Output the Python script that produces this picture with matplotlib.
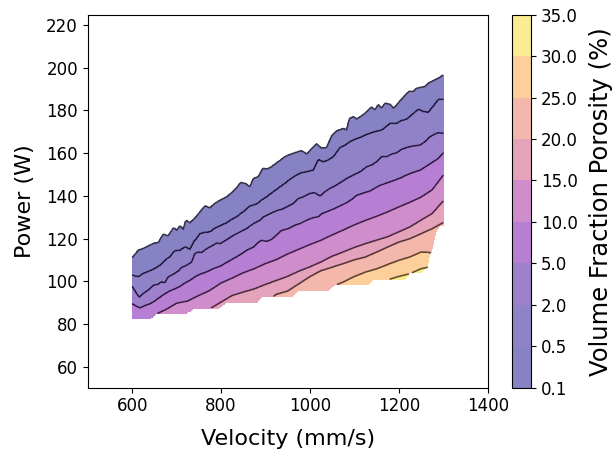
import numpy as np
import matplotlib
matplotlib.use("Agg")
import matplotlib.pyplot as plt

# porosity levels (colorbar boundaries)
levels = [0.1, 0.5, 2.0, 5.0, 10.0, 15.0, 20.0, 25.0, 30.0, 35.0]

# lower edge of the sampled region: velocity (mm/s) -> power (W)
bottom_v = [600, 640, 655, 723, 738, 798, 809, 880, 891, 959, 974, 1041, 1056, 1128,
            1143, 1214, 1225, 1250, 1262, 1265, 1270, 1280, 1285, 1293, 1300]
bottom_p = [82.1, 82.1, 84.8, 84.8, 87.2, 87.2, 89.8, 89.8, 92.6, 92.6, 95.4, 95.4,
            98.1, 98.1, 100.8, 100.8, 103.6, 103.6, 106.0, 106.0, 111.4, 119.2,
            123.1, 126.0, 126.0]

# iso-porosity lines: velocity (mm/s), power (W)
v_01 = [600, 614, 625, 640, 651, 659, 670, 681, 693, 700, 708, 715, 721, 730, 741,
        753, 764, 775, 786, 798, 813, 824, 835, 844, 854, 865, 873, 884, 894, 903,
        914, 925, 936, 944, 955, 966, 981, 993, 1004, 1015, 1026, 1038, 1049, 1060,
        1075, 1083, 1089, 1098, 1105, 1116, 1128, 1139, 1146, 1154, 1161, 1169, 1180,
        1188, 1195, 1206, 1218, 1225, 1233, 1240, 1251, 1259, 1266, 1278, 1289, 1300]
p_01 = [110.9, 114.5, 115.3, 116.9, 117.9, 118.1, 122.0, 121.2, 125.0, 123.9, 125.9,
        124.2, 128.6, 127.3, 129.4, 132.5, 135.3, 134.3, 136.4, 137.9, 139.5, 141.4,
        143.7, 146.2, 145.8, 144.2, 148.1, 148.9, 152.8, 152.5, 153.6, 155.4, 157.0,
        158.3, 159.3, 160.1, 161.1, 159.5, 162.0, 164.2, 162.2, 162.6, 168.0, 170.3,
        171.4, 170.8, 176.2, 177.0, 175.9, 177.3, 179.4, 181.7, 180.1, 182.8, 180.9,
        183.3, 182.8, 180.9, 182.5, 185.1, 187.9, 189.0, 188.7, 190.3, 190.8, 191.1,
        192.6, 193.9, 195.0, 196.5]

v_05 = [600, 614, 625, 640, 651, 663, 674, 685, 696, 708, 719, 730, 741, 745, 753,
        764, 775, 786, 798, 813, 824, 835, 850, 865, 880, 891, 903, 918, 933, 944,
        955, 966, 981, 993, 1008, 1019, 1030, 1041, 1053, 1068, 1079, 1090, 1101,
        1113, 1124, 1135, 1146, 1158, 1165, 1180, 1195, 1206, 1218, 1233, 1244, 1255,
        1266, 1278, 1289, 1300]
p_05 = [102.8, 102.0, 103.6, 104.8, 105.9, 107.5, 109.8, 111.4, 114.2, 114.5, 116.1,
        114.8, 119.2, 120.0, 122.3, 122.8, 123.1, 124.7, 125.9, 127.3, 128.9, 130.1,
        132.5, 135.1, 136.1, 137.9, 139.5, 141.9, 144.2, 145.8, 147.6, 149.2, 150.8,
        151.2, 152.0, 157.0, 155.9, 156.7, 158.3, 162.6, 163.7, 165.3, 166.4, 167.3,
        168.4, 169.2, 170.0, 170.5, 171.2, 173.9, 173.9, 175.2, 175.8, 178.6, 180.5,
        179.4, 179.0, 182.0, 185.1, 185.1]

v_2 = [600, 610, 616, 625, 636, 648, 659, 666, 674, 681, 693, 704, 711, 723, 734,
       741, 749, 756, 768, 779, 790, 798, 813, 828, 843, 858, 873, 888, 895, 903, 914,
       925, 936, 948, 963, 974, 985, 1000, 1011, 1023, 1034, 1045, 1056, 1068, 1083,
       1098, 1113, 1128, 1139, 1150, 1161, 1173, 1184, 1195, 1206, 1218, 1233, 1248,
       1259, 1270, 1281, 1289, 1300]
p_2 = [97.6, 94.2, 92.3, 94.2, 95.8, 98.1, 98.6, 99.7, 99.2, 102.0, 103.3, 104.8,
       106.4, 107.5, 109.0, 113.0, 113.7, 113.4, 115.3, 116.5, 117.9, 117.6, 119.5,
       121.5, 123.1, 124.7, 127.0, 128.6, 130.1, 130.9, 132.0, 133.0, 133.6, 134.8,
       136.4, 138.7, 139.5, 141.1, 141.4, 139.8, 141.9, 143.4, 144.5, 146.1, 148.1,
       149.7, 151.2, 153.6, 154.4, 155.9, 158.3, 158.3, 159.5, 160.1, 161.7, 162.6,
       163.3, 163.7, 165.3, 167.6, 168.9, 169.5, 169.2]

v_5 = [600, 610, 618, 629, 640, 651, 663, 674, 685, 696, 708, 719, 730, 741, 753,
       768, 783, 798, 813, 828, 843, 858, 873, 884, 891, 903, 914, 925, 936, 951, 966,
       978, 993, 1008, 1019, 1026, 1041, 1053, 1068, 1083, 1094, 1105, 1120, 1135,
       1146, 1158, 1173, 1188, 1203, 1218, 1233, 1248, 1263, 1278, 1289, 1300]
p_5 = [89.5, 88.3, 87.6, 88.7, 89.5, 90.8, 92.6, 94.2, 95.5, 96.4, 97.6, 99.2, 100.4,
       102.0, 103.3, 104.4, 105.9, 107.0, 108.8, 110.6, 112.4, 114.5, 116.0, 118.2,
       119.2, 118.6, 119.6, 121.6, 123.8, 124.6, 126.2, 127.0, 128.6, 129.8, 130.2,
       131.6, 132.8, 133.8, 135.3, 136.8, 138.3, 140.2, 141.3, 142.2, 143.6, 144.9,
       146.0, 147.1, 148.3, 149.8, 151.0, 152.0, 154.0, 156.0, 157.5, 160.1]

v_10 = [655, 675, 700, 725, 750, 775, 800, 825, 850, 875, 900, 925, 950, 975, 1000,
        1025, 1050, 1075, 1100, 1125, 1150, 1175, 1200, 1225, 1250, 1275, 1300]
p_10 = [84.8, 86.7, 89.8, 90.8, 93.4, 95.8, 99.2, 101.5, 104.0, 105.9, 108.3, 110.2,
        112.8, 115.0, 117.2, 119.2, 121.7, 124.0, 126.4, 128.5, 130.4, 132.5, 134.8,
        137.0, 139.4, 142.8, 149.7]

v_15 = [775, 800, 825, 850, 875, 900, 925, 950, 975, 1000, 1025, 1050, 1075, 1100,
        1125, 1150, 1175, 1200, 1225, 1250, 1275, 1300]
p_15 = [87.2, 90.3, 93.4, 95.0, 96.5, 98.6, 100.4, 102.3, 104.7, 106.7, 109.0, 111.7,
        113.7, 115.8, 117.6, 119.2, 120.8, 123.1, 125.4, 128.6, 131.7, 137.6]

v_20 = [915, 925, 950, 975, 1000, 1025, 1050, 1075, 1100, 1125, 1150, 1175, 1200,
        1225, 1250, 1275, 1300]
p_20 = [92.6, 94.0, 95.5, 98.9, 102.3, 105.1, 106.7, 108.3, 110.1, 111.4, 113.7,
        116.1, 118.4, 120.0, 122.3, 124.7, 127.5]

v_25 = [1056, 1075, 1100, 1125, 1150, 1175, 1200, 1225, 1250, 1272]
p_25 = [98.1, 99.7, 102.3, 104.4, 105.9, 107.9, 109.8, 111.4, 113.7, 113.5]

v_30 = [1176, 1200, 1225, 1250, 1265]
p_30 = [100.8, 102.3, 103.6, 105.9, 106.6]

lines = [(v_01, p_01), (v_05, p_05), (v_2, p_2), (v_5, p_5), (v_10, p_10),
         (v_15, p_15), (v_20, p_20), (v_25, p_25), (v_30, p_30)]

# porosity field on a grid, built so its contours follow the lines above
velocity = np.arange(600.0, 1300.01, 2.5)
power = np.arange(60.0, 220.01, 0.5)
bottom = np.interp(velocity, bottom_v, bottom_p)

cross = np.empty((len(lines), len(velocity)))
for k, (lv, lp) in enumerate(lines):
    c = np.interp(velocity, lv, lp)
    outside = (velocity < lv[0]) | (velocity > lv[-1])
    c[outside] = bottom[outside] - 4.0 - k
    if k > 0:
        c = np.minimum(c, cross[k - 1] - 0.2)
    cross[k] = c

Z = np.zeros((len(power), len(velocity)))
for j in range(len(velocity)):
    ps = [cross[0, j] + 10] + list(cross[:, j]) + [cross[-1, j] - 10]
    zs = [0.0] + levels[:-1] + [34.9]
    Z[:, j] = np.interp(power, ps[::-1], zs[::-1])
Z = np.ma.array(Z, mask=power[:, None] < bottom[None, :])

fig = plt.figure(figsize=(6.13, 4.53), dpi=100)
ax = fig.add_axes([0.1431, 0.1442, 0.6525, 0.8233])
cax = fig.add_axes([0.8357, 0.1442, 0.0305, 0.8233])

cf = ax.contourf(velocity, power, Z, levels=levels, cmap="plasma", alpha=0.5)
ax.contour(velocity, power, Z, levels=levels[:-1], colors="k",
           linewidths=1.2, alpha=0.6)

ax.set_xlim(500, 1400)
ax.set_ylim(50.2, 224.8)
ax.set_xticks([600, 800, 1000, 1200, 1400])
ax.set_yticks([60, 80, 100, 120, 140, 160, 180, 200, 220])
ax.tick_params(labelsize=12)
ax.set_xlabel("Velocity (mm/s)", fontsize=16, labelpad=10)
ax.set_ylabel("Power (W)", fontsize=16, labelpad=8)

cb = fig.colorbar(cf, cax=cax, ticks=levels, format="%.1f")
cb.ax.tick_params(labelsize=12)
cb.set_label("Volume Fraction Porosity (%)", fontsize=17.5, labelpad=8)

fig.savefig("out.png", dpi=100)
